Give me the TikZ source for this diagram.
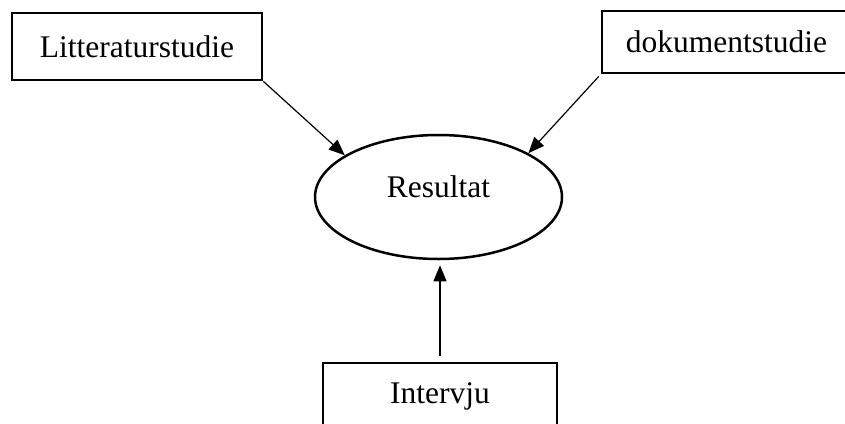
\documentclass[tikz,border=0pt]{standalone}
\usepackage{fontspec}
\setmainfont{Liberation Serif}
\usetikzlibrary{shapes.geometric,arrows.meta}
\tikzset{
  boxnode/.style={draw, line width=2.5pt, rectangle, inner sep=0pt, font=\fontsize{31.5}{38}\selectfont},
  ovalnode/.style={draw, line width=2.5pt, ellipse, inner sep=0pt, font=\fontsize{31.5}{38}\selectfont},
  conn/.style={line width=1.2pt, -{Triangle[length=16pt,width=13pt]}}
}
\begin{document}
\begin{tikzpicture}[x=1pt,y=-1pt]
\useasboundingbox (0,0) rectangle (845,423);
\clip (0,0) rectangle (845,423);
\node[boxnode, minimum width=250pt, minimum height=67pt] (lit) at (137,46.5) {Litteraturstudie};
\node[boxnode, minimum width=249pt, minimum height=62pt] (dok) at (726.5,42) {dokumentstudie};
\node[ovalnode, minimum width=247pt, minimum height=124pt, text height=20pt, text depth=20pt] (res) at (438.5,197) {Resultat};
\node[boxnode, minimum width=234pt, minimum height=67pt] (int) at (440,396.5) {Intervju};
\draw[conn] (lit.south east) -- (res.156);
\draw[conn, shorten <=3pt] (dok.south west) -- (res.26);
\draw[conn, shorten <=6pt, shorten >=5pt] (int.north) -- (int.north |- res.south);
\end{tikzpicture}
\end{document}
